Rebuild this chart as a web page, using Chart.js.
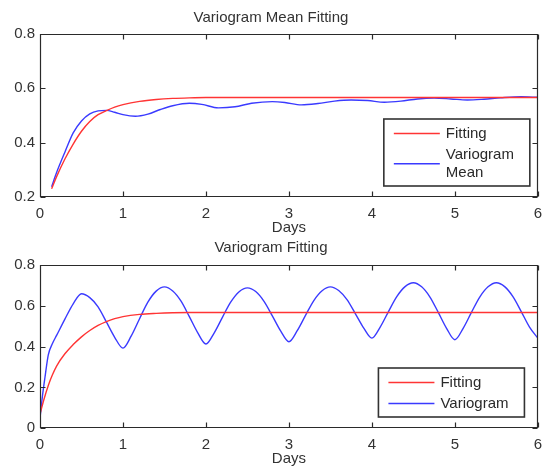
<!DOCTYPE html>
<html>
<head>
<meta charset="utf-8" />
<title>Variogram Fitting</title>
<style>
body { margin: 0; background: #fff; }
#wrap { position: relative; width: 550px; height: 473px; }
.panel { position: absolute; left: 0; width: 550px; }
</style>
</head>
<body>
<div id="wrap">
  <div class="panel" style="top:0;height:237px"><canvas id="meanChart" width="550" height="237"></canvas></div>
  <div class="panel" style="top:237px;height:236px"><canvas id="varioChart" width="550" height="236"></canvas></div>
</div>
<script src="https://cdn.jsdelivr.net/npm/chart.js"></script>
<script>
// top panel: variogram mean and its fitted model
const topFitDays = [0.14, 0.2, 0.3, 0.4, 0.5, 0.6, 0.7, 0.8, 0.9, 1.0, 1.2, 1.4, 1.6, 1.8, 2.0, 3.0, 4.0, 5.0, 6.0];
const topFit     = [0.23, 0.275, 0.34, 0.395, 0.442, 0.478, 0.503, 0.518, 0.531, 0.540, 0.552, 0.559, 0.563, 0.565, 0.566, 0.566, 0.566, 0.566, 0.566];
const topMeanDays = [0.14, 0.2, 0.3, 0.4, 0.5, 0.6, 0.7, 0.8, 0.9, 1.0, 1.15, 1.3, 1.45, 1.6, 1.8, 1.95, 2.15, 2.35, 2.55, 2.8,
                     2.95, 3.15, 3.35, 3.55, 3.75, 3.95, 4.15, 4.35, 4.55, 4.75, 4.95, 5.15, 5.35, 5.55, 5.8, 6.0];
const topMean     = [0.238, 0.29, 0.365, 0.436, 0.48, 0.506, 0.517, 0.519, 0.512, 0.503, 0.497, 0.505, 0.522, 0.536, 0.545, 0.541, 0.528, 0.532, 0.545, 0.551,
                     0.548, 0.539, 0.544, 0.553, 0.557, 0.555, 0.549, 0.553, 0.561, 0.564, 0.561, 0.557, 0.56, 0.565, 0.569, 0.567];
const topYTicks = [0.2, 0.8, 0.2]; // min, max, step

// bottom panel: raw variogram and fitted model
const botFitDays = [0, 0.05, 0.1, 0.15, 0.2, 0.3, 0.4, 0.5, 0.6, 0.7, 0.8, 0.9, 1.0, 1.2, 1.4, 1.6, 1.8, 2.0, 3.0, 4.0, 5.0, 6.0];
const botFit     = [0.07, 0.145, 0.21, 0.262, 0.305, 0.365, 0.41, 0.448, 0.479, 0.504, 0.523, 0.537, 0.547, 0.558, 0.563, 0.566, 0.567, 0.567, 0.567, 0.567, 0.567, 0.567];
const botVarioDays = [0, 0.03, 0.06, 0.1, 0.15, 0.2, 0.3, 0.4, 0.5, 0.6, 0.7, 0.8, 0.9, 1.0,
                      1.1, 1.2, 1.3, 1.4, 1.5, 1.6, 1.7, 1.8, 1.9, 2.0,
                      2.1, 2.2, 2.3, 2.4, 2.5, 2.6, 2.7, 2.8, 2.9, 3.0,
                      3.1, 3.2, 3.3, 3.4, 3.5, 3.6, 3.7, 3.8, 3.9, 4.0,
                      4.1, 4.2, 4.3, 4.4, 4.5, 4.6, 4.7, 4.8, 4.9, 5.0,
                      5.1, 5.2, 5.3, 5.4, 5.5, 5.6, 5.7, 5.8, 5.9, 6.0];
const botVario     = [0.05, 0.16, 0.25, 0.36, 0.415, 0.455, 0.535, 0.61, 0.659, 0.640, 0.595, 0.521, 0.446, 0.393,
                      0.453, 0.537, 0.618, 0.672, 0.693, 0.673, 0.623, 0.547, 0.469, 0.413,
                      0.468, 0.545, 0.619, 0.669, 0.688, 0.670, 0.622, 0.551, 0.477, 0.424,
                      0.478, 0.553, 0.626, 0.674, 0.693, 0.675, 0.630, 0.562, 0.492, 0.442,
                      0.496, 0.572, 0.645, 0.694, 0.713, 0.693, 0.643, 0.568, 0.490, 0.434,
                      0.490, 0.568, 0.643, 0.693, 0.713, 0.694, 0.645, 0.572, 0.496, 0.442];
const botYTicks = [0, 0.8, 0.2];
const dayTicks = [0, 6, 1];

const RED = '#ff3434';
const BLUE = '#3a3aff';
const FONT = '"Liberation Sans", Arial, sans-serif';

Chart.defaults.font.family = FONT;
Chart.defaults.font.size = 15;
Chart.defaults.color = '#333';

function pts(xs, ys) {
  return xs.map((x, i) => ({x: x, y: ys[i]}));
}

// matlab style box: frame, inward ticks on all sides, boxed legend inside the axes
const matlabAxes = {
  id: 'matlabAxes',
  afterDatasetsDraw(chart, args, opts) {
    const ctx = chart.ctx;
    const a = chart.chartArea;
    const sx = chart.scales.x, sy = chart.scales.y;
    const L = Math.round(a.left) + 0.5, R = Math.round(a.right) - 0.5;
    const T = Math.round(a.top) + 0.5, B = Math.round(a.bottom) - 0.5;
    ctx.save();
    ctx.strokeStyle = '#2a2a2a';
    ctx.lineWidth = 1.2;
    ctx.beginPath();
    for (const t of sx.ticks) {
      const px = Math.round(sx.getPixelForValue(t.value)) + 0.5;
      ctx.moveTo(px, B); ctx.lineTo(px, B - 5);
      ctx.moveTo(px, T); ctx.lineTo(px, T + 5);
    }
    for (const t of sy.ticks) {
      const py = Math.round(sy.getPixelForValue(t.value)) + 0.5;
      ctx.moveTo(L, py); ctx.lineTo(L + 5, py);
      ctx.moveTo(R, py); ctx.lineTo(R - 5, py);
    }
    ctx.rect(L, T, R - L, B - T);
    ctx.stroke();

    // legend
    const bx = a.right - opts.right - opts.width;
    const by = a.bottom - opts.bottom - opts.height;
    ctx.fillStyle = '#fff';
    ctx.fillRect(bx, by, opts.width, opts.height);
    ctx.lineWidth = 1.6;
    ctx.strokeStyle = '#333';
    ctx.strokeRect(bx, by, opts.width, opts.height);
    ctx.font = '15px ' + FONT;
    ctx.textBaseline = 'middle';
    ctx.textAlign = 'left';
    let y = by + 14.5;
    chart.data.datasets.forEach(ds => {
      const lines = ds.legendLines || [ds.label];
      const lineY = y + (lines.length - 1) * 18.4 / 2;
      ctx.strokeStyle = ds.borderColor;
      ctx.lineWidth = ds.borderWidth;
      ctx.beginPath();
      ctx.moveTo(bx + 10, lineY);
      ctx.lineTo(bx + 56, lineY);
      ctx.stroke();
      ctx.fillStyle = '#2a2a2a';
      lines.forEach((s, i) => ctx.fillText(s, bx + 62, y + i * 18.4));
      y += 21 + (lines.length - 1) * 18.4;
    });
    ctx.restore();
  }
};

function makePanel(id, title, titlePad, datasets, yTicks, xAxisHeight, daysPad, legendBox) {
  return new Chart(document.getElementById(id), {
    type: 'line',
    data: { datasets: datasets },
    plugins: [matlabAxes],
    options: {
      responsive: false,
      animation: false,
      layout: { padding: { left: 0, right: 8, top: 0, bottom: 0 } },
      elements: { point: { radius: 0 } },
      scales: {
        x: {
          type: 'linear',
          min: dayTicks[0], max: dayTicks[1],
          ticks: { stepSize: dayTicks[2], padding: 8 },
          grid: { display: false, drawTicks: false },
          border: { display: false },
          title: { display: true, text: 'Days', padding: { top: 0, bottom: daysPad } },
          afterFit: function (s) { s.height = xAxisHeight; }
        },
        y: {
          min: yTicks[0], max: yTicks[1],
          ticks: { stepSize: yTicks[2], padding: 5 },
          grid: { display: false, drawTicks: false },
          border: { display: false },
          afterFit: function (s) { s.width = 40; }
        }
      },
      plugins: {
        legend: { display: false },
        tooltip: { enabled: false },
        title: {
          display: true,
          text: title,
          font: { size: 15, weight: 'normal' },
          padding: titlePad
        },
        matlabAxes: legendBox
      }
    }
  });
}

makePanel('meanChart', 'Variogram Mean Fitting', { top: 8.5, bottom: 7.5 }, [
  { label: 'Fitting', data: pts(topFitDays, topFit), borderColor: RED, borderWidth: 1.4,
    cubicInterpolationMode: 'monotone', fill: false },
  { label: 'Variogram Mean', legendLines: ['Variogram', 'Mean'], data: pts(topMeanDays, topMean),
    borderColor: BLUE, borderWidth: 1.4, cubicInterpolationMode: 'monotone', fill: false }
], topYTicks, 40, 0.5, { right: 8, bottom: 11, width: 146, height: 67 });

makePanel('varioChart', 'Variogram Fitting', { top: 1.5, bottom: 8.5 }, [
  { label: 'Fitting', data: pts(botFitDays, botFit), borderColor: RED, borderWidth: 1.4,
    cubicInterpolationMode: 'monotone', fill: false },
  { label: 'Variogram', data: pts(botVarioDays, botVario), borderColor: BLUE, borderWidth: 1.4,
    cubicInterpolationMode: 'monotone', fill: false }
], botYTicks, 44.7, 5.5, { right: 13.4, bottom: 11.3, width: 146, height: 49 });
</script>
</body>
</html>
